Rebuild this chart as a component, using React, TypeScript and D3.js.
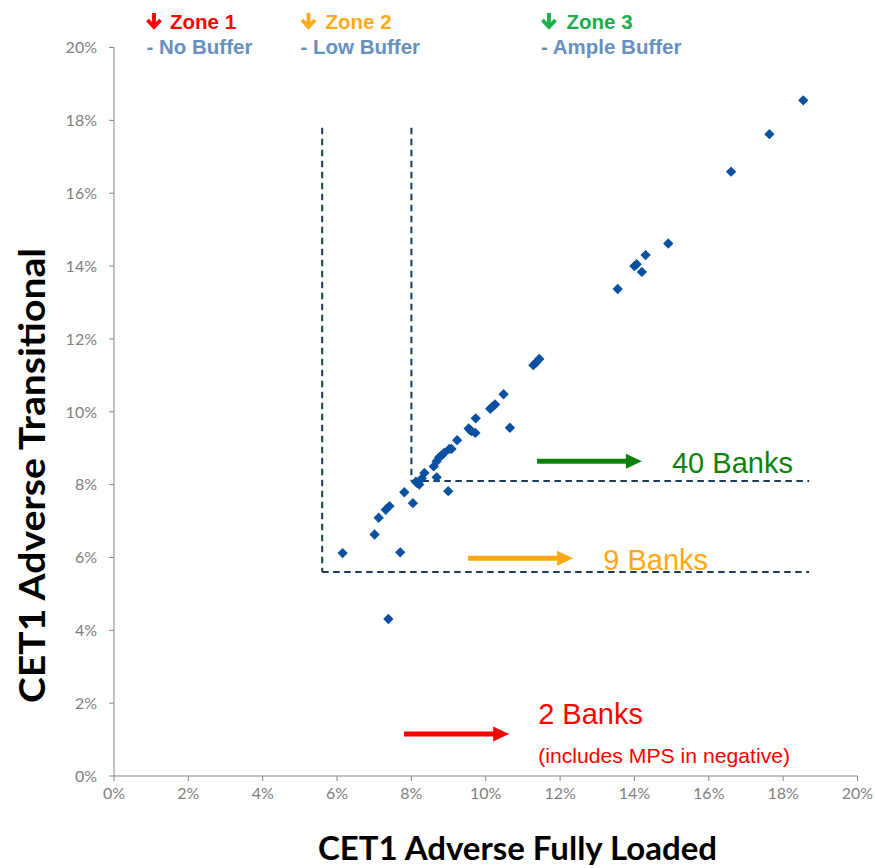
import React from "react";
import * as d3 from "d3";

// CET1 Adverse Fully Loaded (%) and CET1 Adverse Transitional (%) per bank
const fullyLoaded = [6.15, 7.38, 7.70, 7.01, 7.12, 7.31, 7.41, 7.81, 8.04, 8.12, 8.15, 8.21, 8.28, 8.35, 8.68, 8.99, 8.60, 8.68, 8.75, 8.82, 8.88, 9.02, 9.08, 9.23, 9.54, 9.58, 9.62, 9.72, 9.73, 10.12, 10.18, 10.25, 10.48, 10.65, 11.28, 11.36, 11.44, 13.55, 14.00, 14.06, 14.20, 14.30, 14.91, 16.60, 17.63, 18.54];
const transitional = [6.12, 4.31, 6.14, 6.63, 7.09, 7.31, 7.41, 7.79, 7.49, 8.08, 8.05, 8.00, 8.17, 8.32, 8.20, 7.82, 8.50, 8.64, 8.75, 8.81, 8.87, 8.98, 8.98, 9.22, 9.54, 9.50, 9.47, 9.42, 9.82, 10.08, 10.14, 10.20, 10.48, 9.56, 11.28, 11.36, 11.45, 13.37, 14.00, 14.05, 13.84, 14.30, 14.62, 16.59, 17.62, 18.55];

const xTicks = [0, 2, 4, 6, 8, 10, 12, 14, 16, 18, 20];
const yTicks = [0, 2, 4, 6, 8, 10, 12, 14, 16, 18, 20];

// zone thresholds (%)
const lowThreshold = 5.6;
const ampleThresholdX = 8.0;
const ampleThresholdY = 8.1;
const thresholdTop = 17.8;
const thresholdRight = 18.7;

// bank-count annotations (% units)
const bankLabels = ["40 Banks", "9 Banks", "2 Banks"];
const bankColors = ["#0b830b", "#ffa812", "#ff0000"];
const arrowStart = [11.38, 9.52, 7.8];
const arrowEnd = [14.2, 12.35, 10.63];
const arrowLevel = [8.64, 5.98, 1.15];
const labelX = [15.01, 13.16, 11.41];
const labelY = [8.31, 5.65, 1.43];
const noteText = "(includes MPS in negative)";
const noteY = 0.36;

const zoneNames = ["Zone 1", "Zone 2", "Zone 3"];
const bufferNames = ["- No Buffer", "- Low Buffer", "- Ample Buffer"];
const zoneColors = ["#ff0000", "#ffa916", "#1aaf4d"];

export default function App() {
  const W = 875, H = 868;
  const x = d3.scaleLinear().domain([0, 20]).range([114, 857.5]);
  const y = d3.scaleLinear().domain([0, 20]).range([776, 47.5]);
  const axisColor = "#878787";
  const labelColor = "#7f7f7f";
  const dashColor = "#1d3a58";
  const markColor = "#0a50a1";
  const tickFont = "Lato, 'Open Sans', sans-serif";
  const arialFont = "'Liberation Sans', Arial, sans-serif";

  const diamond = d3.symbol().type(d3.symbolDiamond2).size(68)();

  const legendArrowX = [154, 308.5, 549];
  const legendTextX = [170, 325.5, 566.5];
  const legendBufX = [146.5, 300.5, 541];

  const arrowPath = (cx: number) =>
    `M${cx},13 L${cx},26 M${cx - 6.5},20 L${cx},27 L${cx + 6.5},20`;

  return (
    <svg width={W} height={H} style={{ position: "absolute", left: 0, top: 0, background: "#fff" }}>
      {/* axes */}
      <line x1={x(0)} x2={x(0)} y1={y(0)} y2={y(20)} stroke={axisColor} strokeWidth={1} />
      <line x1={x(0)} x2={x(20)} y1={y(0)} y2={y(0)} stroke={axisColor} strokeWidth={1} />
      {yTicks.map((t) => (
        <g key={"yt" + t}>
          <line x1={x(0) - 5} x2={x(0)} y1={y(t)} y2={y(t)} stroke={axisColor} />
          <text x={97} y={y(t)} dy="0.36em" textAnchor="end" fontFamily={tickFont} fontSize={16} fill={labelColor}>
            {t + "%"}
          </text>
        </g>
      ))}
      {xTicks.map((t) => (
        <g key={"xt" + t}>
          <line x1={x(t)} x2={x(t)} y1={y(0)} y2={y(0) + 5} stroke={axisColor} />
          <text x={x(t)} y={799} textAnchor="middle" fontFamily={tickFont} fontSize={16} fill={labelColor}>
            {t + "%"}
          </text>
        </g>
      ))}

      {/* axis titles */}
      <text
        transform={`translate(45,475.5) rotate(-90)`}
        textAnchor="middle"
        fontFamily={tickFont}
        fontWeight="bold"
        fontSize={37}
        textLength={455}
        lengthAdjust="spacingAndGlyphs"
        fill="#000"
      >
        CET1 Adverse Transitional
      </text>
      <text
        x={517.5}
        y={860}
        textAnchor="middle"
        fontFamily={tickFont}
        fontWeight="bold"
        fontSize={32}
        textLength={399}
        lengthAdjust="spacingAndGlyphs"
        fill="#000"
      >
        CET1 Adverse Fully Loaded
      </text>

      {/* threshold dashed lines */}
      <g stroke={dashColor} strokeWidth={2} strokeDasharray="6.5,4.5" fill="none">
        <line x1={x(lowThreshold)} x2={x(lowThreshold)} y1={y(thresholdTop)} y2={y(lowThreshold)} />
        <line x1={x(lowThreshold)} x2={x(thresholdRight)} y1={y(lowThreshold)} y2={y(lowThreshold)} />
        <line x1={x(ampleThresholdX)} x2={x(ampleThresholdX)} y1={y(thresholdTop)} y2={y(ampleThresholdY)} />
        <line x1={x(ampleThresholdX)} x2={x(thresholdRight)} y1={y(ampleThresholdY)} y2={y(ampleThresholdY)} />
      </g>

      {/* data points */}
      {fullyLoaded.map((v, i) => (
        <path key={"p" + i} d={diamond!} transform={`translate(${x(v)},${y(transitional[i])})`} fill={markColor} />
      ))}

      {/* bank count arrows and labels */}
      {bankLabels.map((lab, i) => {
        const x0 = x(arrowStart[i]);
        const x1 = x(arrowEnd[i]);
        const yy = y(arrowLevel[i]);
        return (
          <g key={"b" + i}>
            <line x1={x0} x2={x1 - 14} y1={yy} y2={yy} stroke={bankColors[i]} strokeWidth={5} />
            <path d={`M${x1 - 16},${yy - 7.5} L${x1},${yy} L${x1 - 16},${yy + 7.5} Z`} fill={bankColors[i]} />
            <text x={x(labelX[i])} y={y(labelY[i])} fontFamily={arialFont} fontSize={29} fill={bankColors[i]}>
              {lab}
            </text>
          </g>
        );
      })}
      <text x={x(labelX[2])} y={y(noteY)} fontFamily={arialFont} fontSize={21} fill="#ff0000" textLength={252} lengthAdjust="spacingAndGlyphs">
        {noteText}
      </text>

      {/* zone legend */}
      {zoneNames.map((z, i) => (
        <g key={"z" + i}>
          <path d={arrowPath(legendArrowX[i])} stroke={zoneColors[i]} strokeWidth={3.8} fill="none" strokeLinecap="butt" strokeLinejoin="miter" />
          <text x={legendTextX[i]} y={28.5} fontFamily={arialFont} fontWeight="bold" fontSize={20.5} fill={zoneColors[i]}>
            {z}
          </text>
          <text x={legendBufX[i]} y={53.5} fontFamily={arialFont} fontWeight="bold" fontSize={20.5} fill="#6690bf">
            {bufferNames[i]}
          </text>
        </g>
      ))}
    </svg>
  );
}
